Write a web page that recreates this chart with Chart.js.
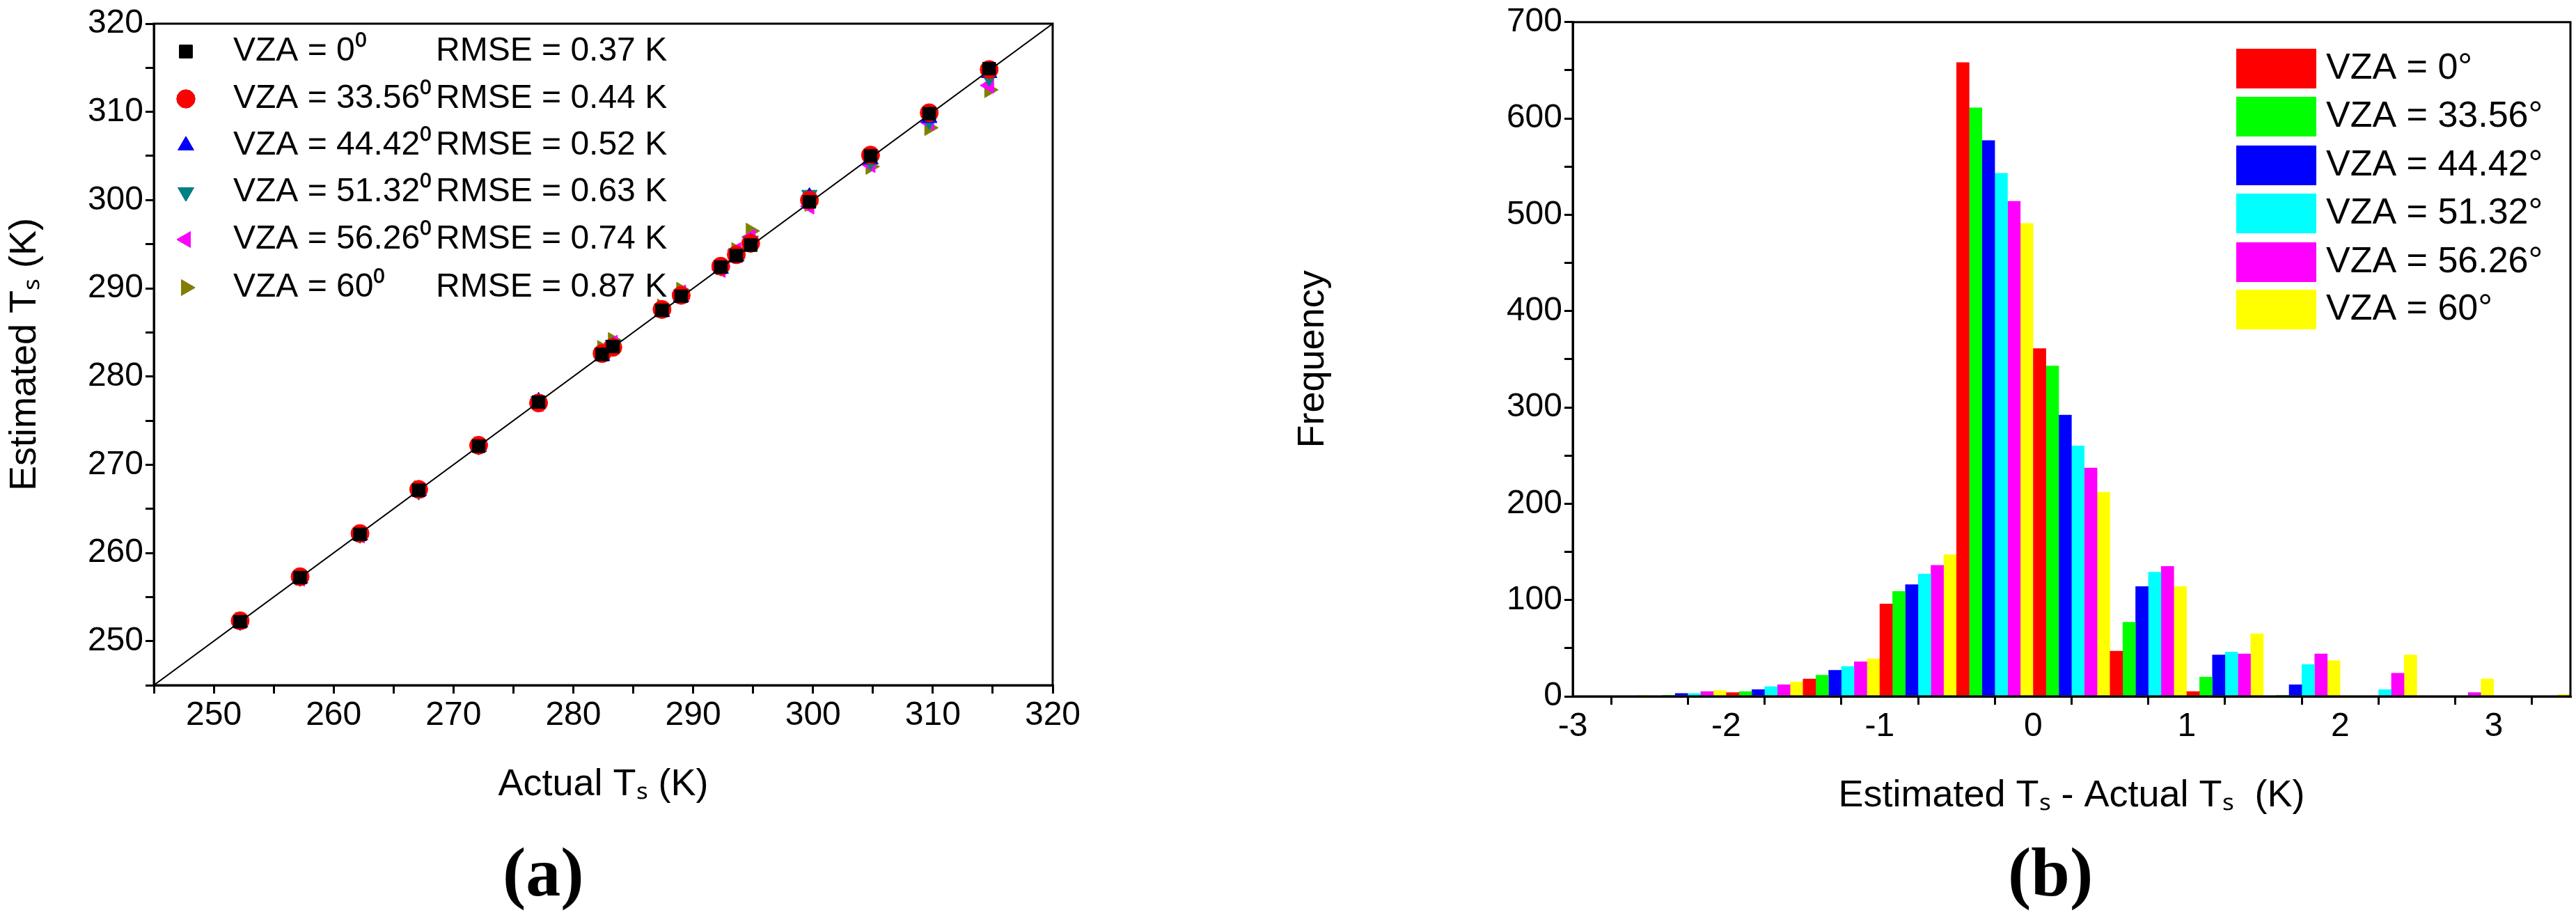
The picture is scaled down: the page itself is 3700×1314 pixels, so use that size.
<!DOCTYPE html>
<html>
<head>
<meta charset="utf-8">
<script src="https://cdn.jsdelivr.net/npm/chart.js@4/dist/chart.umd.min.js"></script>
<style>
  body { margin:0; background:#fff; width:3700px; height:1314px; overflow:hidden; position:relative; }
  .box { position:absolute; top:0; height:1314px; }
  .tag { position:absolute; top:1195px; font-family:'Liberation Serif',serif; font-weight:bold; font-size:100px; }
</style>
</head>
<body>
<div class="box" style="left:0;width:1560px"><canvas id="scatter"></canvas></div>
<div class="box" style="left:1850px;width:1850px"><canvas id="hist"></canvas></div>
<div class="tag" style="left:722px">(a)</div>
<div class="tag" style="left:2884px">(b)</div>
<script>
const FONT = "'Liberation Sans Narrow','Liberation Sans',sans-serif";

// panel (a): actual vs estimated Ts
const actualTs = [252.2,257.2,262.2,267.1,272.1,277.1,282.4,283.3,287.4,289.0,292.3,293.6,294.8,299.7,304.8,309.7,314.7];
const est0  = [252.2,257.2,262.1,267.1,272.1,277.1,282.5,283.4,287.5,289.1,292.4,293.7,294.9,299.8,305.0,309.8,314.9];
const est33 = [252.3,257.3,262.2,267.2,272.2,277.0,282.6,283.3,287.6,289.2,292.5,293.8,295.1,300.0,305.1,309.9,314.8];
const est44 = [252.1,257.1,262.0,267.0,272.0,277.2,282.3,283.4,287.3,289.0,292.2,293.6,295.2,300.4,304.6,309.3,314.4];
const est51 = [252.2,257.2,262.1,267.0,272.1,277.2,282.7,283.6,287.7,289.3,292.4,294.0,295.4,300.6,304.4,309.0,313.9];
const est56 = [252.3,257.1,262.0,267.1,272.2,276.9,282.9,283.8,287.6,289.5,292.1,294.3,295.8,299.3,304.0,308.8,313.0];
const est60 = [252.4,257.2,262.2,267.3,272.3,277.0,283.2,284.1,287.9,289.8,292.4,294.3,296.5,299.6,303.8,308.2,312.5];
const vzaSup = ['VZA = 0\u2070','VZA = 33.56\u2070','VZA = 44.42\u2070','VZA = 51.32\u2070','VZA = 56.26\u2070','VZA = 60\u2070'];
const rmse = ['RMSE = 0.37 K','RMSE = 0.44 K','RMSE = 0.52 K','RMSE = 0.63 K','RMSE = 0.74 K','RMSE = 0.87 K'];

// panel (b): histogram of errors, bins of 0.5 K starting at these edges
const binStart = [-3,-2.5,-2,-1.5,-1,-0.5,0,0.5,1,1.5,2,2.5,3];
const freq0  = [0,0,4,18,96,658,361,47,5,0,0,0,0];
const freq33 = [0,1,5,22,109,611,343,77,20,1,0,0,0];
const freq44 = [0,3,7,27,116,577,292,114,43,12,0,0,0];
const freq51 = [0,3,10,31,127,543,260,129,46,33,7,0,0];
const freq56 = [0,5,12,36,136,514,237,135,44,44,24,4,0];
const freq60 = [1,6,15,39,147,491,212,114,65,37,43,18,2];
const vzaDeg = ['VZA = 0\u00b0','VZA = 33.56\u00b0','VZA = 44.42\u00b0','VZA = 51.32\u00b0','VZA = 56.26\u00b0','VZA = 60\u00b0'];

const frame = {
  id:'frame',
  afterDraw(c) {
    const a = c.chartArea, x = c.ctx;
    x.save(); x.strokeStyle='#000'; x.lineWidth=3;
    x.strokeRect(a.left, a.top, a.right-a.left, a.bottom-a.top); x.restore();
  }
};

function axis(min, max, step, major, label, w, h) {
  return {
    min, max,
    ticks:{ stepSize:step, color:'#000', font:{family:FONT,size:48}, maxRotation:0, autoSkip:false,
      callback:v => (Math.abs(v/major - Math.round(v/major)) < 1e-6 ? String(Math.round(v*100)/100) : '') },
    grid:{ drawOnChartArea:false, color:'#000', lineWidth:3, tickLength:12 },
    border:{ color:'#000', width:3 },
    title:{ display:true, text:label, color:'#000', font:{family:FONT,size:54} },
    afterFit(s) { if (w) s.width = w; if (h) s.height = h; }
  };
}

const scatterMarks = [
  ['#000000','rect',0], ['#ff0000','circle',0], ['#0000ff','triangle',0],
  ['#008080','triangle',180], ['#ff00ff','triangle',-90], ['#808000','triangle',90]
];
const estSeries = [est0,est33,est44,est51,est56,est60];

const scatterLegend = {
  id:'scatterLegend',
  afterDraw(c) {
    const x = c.ctx;
    x.save(); x.font = '48px ' + FONT; x.textBaseline='middle'; x.fillStyle='#000';
    const rows = [74,142,209,276,344,413];
    vzaSup.forEach((t,i) => {
      const m = scatterMarks[i];
      Chart.helpers.drawPoint(x, {pointStyle:m[1], rotation:m[2], radius:13, borderWidth:1}, 267, rows[i]);
      x.fillStyle = m[0]; x.strokeStyle = m[0];
      Chart.helpers.drawPoint(x, {pointStyle:m[1], rotation:m[2], radius:13, borderWidth:1}, 267, rows[i]);
      x.fill();
      x.fillStyle = '#000';
      x.fillText(t, 335, rows[i]);
      x.fillText(rmse[i], 626, rows[i]);
    });
    x.restore();
  }
};

new Chart(document.getElementById('scatter'), {
  type:'scatter',
  data:{ datasets:[
    { type:'line', data:[{x:245,y:245},{x:320,y:320}], borderColor:'#000', borderWidth:2, pointRadius:0 },
    ...estSeries.map((s,i) => ({
      data: actualTs.map((a,j) => ({x:a, y:s[j]})),
      backgroundColor: scatterMarks[i][0], borderColor: scatterMarks[i][0],
      pointStyle: scatterMarks[i][1], rotation: scatterMarks[i][2], pointRadius: 13
    }))
  ]},
  options:{
    responsive:true, maintainAspectRatio:false, animation:false,
    layout:{ padding:{ left:0, right:48, top:34, bottom:150 } },
    plugins:{ legend:{display:false}, tooltip:{enabled:false} },
    scales:{
      x: axis(245,320,5,10,'Actual T\u209b (K)',0,180),
      y: axis(245,320,5,10,'Estimated T\u209b (K)',221,0)
    }
  },
  plugins:[frame, scatterLegend]
});

const histColors = ['#ff0000','#00ff00','#0000ff','#00ffff','#ff00ff','#ffff00'];
const freqSeries = [freq0,freq33,freq44,freq51,freq56,freq60];

const histLegend = {
  id:'histLegend',
  afterDraw(c) {
    const x = c.ctx;
    x.save(); x.font = '52px ' + FONT; x.textBaseline='middle';
    const rows = [99,168,238,307,377,445];
    vzaDeg.forEach((t,i) => {
      x.fillStyle = histColors[i]; x.fillRect(1362, rows[i]-29, 115, 57);
      x.fillStyle = '#000'; x.fillText(t, 1491, rows[i]);
    });
    x.restore();
  }
};

new Chart(document.getElementById('hist'), {
  type:'bar',
  data:{ datasets: freqSeries.map((f,i) => ({
    data: binStart.map((b,j) => ({x: b + (i+0.5)*0.5/6, y: f[j]})),
    backgroundColor: histColors[i], barThickness: 18, grouped:false
  }))},
  options:{
    responsive:true, maintainAspectRatio:false, animation:false,
    layout:{ padding:{ left:0, right:8, top:19, bottom:134 } },
    plugins:{ legend:{display:false}, tooltip:{enabled:false} },
    scales:{
      x: Object.assign(axis(-3,3.5,0.5,1,'Estimated T\u209b - Actual T\u209b  (K)',0,180), {type:'linear', offset:false}),
      y: axis(0,700,50,100,'Frequency',409,0)
    }
  },
  plugins:[frame, histLegend]
});
</script>
</body>
</html>
